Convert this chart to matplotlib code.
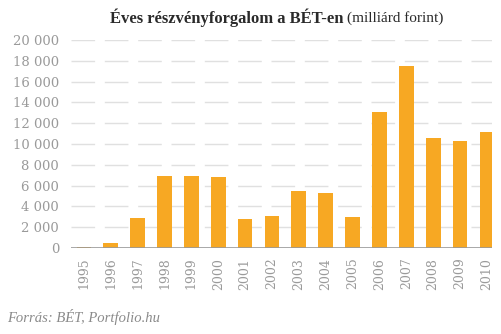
import matplotlib
matplotlib.use("Agg")
import matplotlib.pyplot as plt
import numpy as np

years = ["1995", "1996", "1997", "1998", "1999", "2000", "2001", "2002",
         "2003", "2004", "2005", "2006", "2007", "2008", "2009", "2010"]
values = [100, 480, 2900, 6920, 6900, 6830, 2790, 3080,
          5480, 5290, 2980, 13080, 17500, 10570, 10290, 11150]
yticks = [0, 2000, 4000, 6000, 8000, 10000, 12000, 14000, 16000, 18000, 20000]
ytick_labels = ["0", "2 000", "4 000", "6 000", "8 000", "10 000", "12 000",
                "14 000", "16 000", "18 000", "20 000"]

serif = ["Liberation Serif", "DejaVu Serif"]
tickfont = ["DejaVu Serif"]
gray = "#9a9a9a"
bar_color = "#F7A823"

fig = plt.figure(figsize=(5.01, 3.34), dpi=100)
ax = fig.add_axes([71/501, 1 - 248/334, (492-71)/501, (248-40)/334])

x = np.arange(len(years))
ax.bar(x, values, width=0.55, color=bar_color, zorder=3)

ax.set_ylim(0, 20000)
ax.set_xlim(-0.48, 15.19)
ax.set_yticks(yticks)
ax.set_yticklabels(ytick_labels, family=tickfont, fontsize=9.5, color=gray)
ax.set_xticks(x)
ax.set_xticklabels(years, rotation=90, family=tickfont, fontsize=9, color=gray)
ax.tick_params(axis="y", length=0, pad=8.5)
ax.tick_params(axis="x", length=0, pad=7)

for t in yticks[1:]:
    ax.axhline(t, color="#e0e0e0", lw=1, ls=(0, (17, 7)), zorder=1)
ax.axhline(0, color="#999999", lw=1.2, zorder=4)
for s in ax.spines.values():
    s.set_visible(False)

fig.text(344/501, 1 - 18/334, "Éves részvényforgalom a BÉT-en", ha="right", va="center",
         family=serif, fontsize=12, fontweight="bold", color="#2a2a2a")
fig.text(347/501, 1 - 18/334, "(milliárd forint)", ha="left", va="center",
         family=serif, fontsize=11, color="#2a2a2a")
fig.text(7/501, 1 - 317/334, "Forrás: BÉT, Portfolio.hu", ha="left", va="center",
         family=serif, fontsize=10.5, style="italic", color="#8a8a8a")

fig.savefig("out.png", dpi=100)
